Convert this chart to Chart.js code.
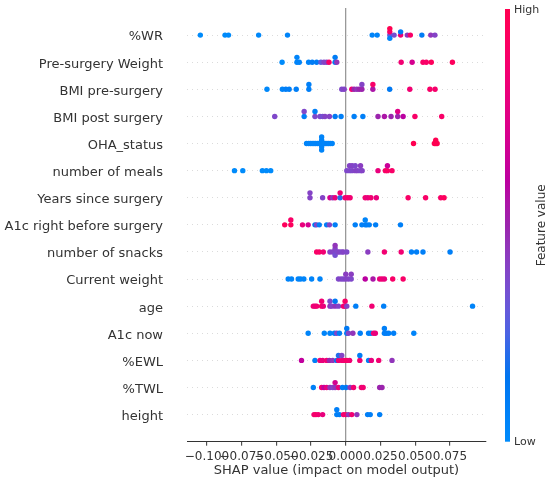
<!DOCTYPE html>
<html lang="en">
<head>
<meta charset="UTF-8">
<title>SHAP summary</title>
<script src="https://cdn.jsdelivr.net/npm/chart.js"></script>
<style>
  html, body { margin: 0; padding: 0; background: #fff; }
  #wrap { width: 550px; height: 482px; position: relative; }
</style>
</head>
<body>
<div id="wrap"><canvas id="shapCanvas"></canvas></div>
<script>
  // features, top to bottom
  const features = ['%WR', 'Pre-surgery Weight', 'BMI pre-surgery', 'BMI post surgery', 'OHA_status',
    'number of meals', 'Years since surgery', 'A1c right before surgery', 'number of snacks',
    'Current weight', 'age', 'A1c now', '%EWL', '%TWL', 'height'];
  const xTicks = [-0.1, -0.075, -0.05, -0.025, 0, 0.025, 0.05, 0.075];

  // SHAP value of each dot, and its feature value (0 = low, 1 = high)
  const wrShap = [-0.1048, -0.087, -0.0845, -0.0628, -0.042, 0.019, 0.0226, 0.0317, 0.0317, 0.0317, 0.0317,
    0.0348, 0.0395, 0.0395, 0.0443, 0.0465, 0.0548, 0.0612, 0.0642];
  const wrFeat = [0, 0, 0, 0.02, 0.05, 0.05, 0.05, 0.3, 0.9, 0.05, 1, 0.35, 0.85, 0.1, 0.45, 0.9, 0.1, 0.45, 0.4];

  const preWeightShap = [-0.0459, -0.0352, -0.0352, -0.0335, -0.0268, -0.0242, -0.021, -0.0179, -0.0157,
    -0.0138, -0.0121, -0.0077, -0.0077, -0.0065, 0.0399, 0.0478, 0.0556, 0.058, 0.0616, 0.0768];
  const preWeightFeat = [0, 0.05, 0.05, 0.05, 0.05, 0.1, 0.1, 0.3, 0.4, 0.4, 0.9, 0.1, 0.1, 0.45, 0.85, 0.7, 0.9, 0.9, 0.95, 0.95];

  const bmiPreShap = [-0.0568, -0.0457, -0.0432, -0.0408, -0.0357, -0.0266, -0.0266, -0.0029, -0.0012, 0.0043,
    0.006, 0.008, 0.0097, 0.0116, 0.0116, 0.0195, 0.0195, 0.0316, 0.0461, 0.0606, 0.0643];
  const bmiPreFeat = [0.02, 0.05, 0.08, 0.08, 0.08, 0.08, 0.08, 0.38, 0.4, 0.85, 0.5, 0.45, 0.5, 0.5, 0.4, 0.55, 0.9,
    0.12, 0.85, 0.9, 0.88];

  const bmiPostShap = [-0.0512, -0.03, -0.03, -0.0222, -0.0222, -0.0186, -0.0167, -0.015, -0.0118, -0.0077,
    -0.0034, 0.006, 0.0123, 0.0232, 0.0278, 0.0326, 0.0374, 0.0374, 0.0413, 0.0498, 0.0691];
  const bmiPostFeat = [0.38, 0.08, 0.38, 0.38, 0.08, 0.38, 0.35, 0.4, 0.4, 0.12, 0.08, 0.08, 0.08, 0.5, 0.55,
    0.5, 0.5, 0.75, 0.6, 0.9, 0.9];

  const ohaShap = [-0.0283, -0.0268, -0.0255, -0.0243, -0.023, -0.0218, -0.0205, -0.0192, -0.0174, -0.0174,
    -0.0174, -0.0174, -0.0174, -0.016, -0.0148, -0.0136, -0.0124, -0.0112, -0.0098, 0.0488, 0.0638, 0.0648,
    0.0648, 0.0658];
  const ohaFeat = [0.05, 0.05, 0.05, 0.05, 0.05, 0.05, 0.05, 0.05, 0.05, 0.05, 0.05, 0.05, 0.05, 0.05, 0.05,
    0.05, 0.05, 0.05, 0.05, 1, 1, 1, 1, 1];

  const mealsShap = [-0.0802, -0.0742, -0.0601, -0.0572, -0.0541, 0.0007, 0.0027, 0.0027, 0.0045, 0.0045,
    0.0068, 0.0068, 0.0085, 0.0106, 0.0106, 0.0118, 0.0232, 0.0285, 0.03, 0.03, 0.0333];
  const mealsFeat = [0, 0, 0, 0, 0, 0.38, 0.38, 0.4, 0.38, 0.4, 0.4, 0.38, 0.4, 0.38, 0.42, 0.4, 0.8, 0.9, 0.92,
    0.65, 0.9];

  const yearsShap = [-0.0258, -0.0258, -0.0167, -0.0114, -0.0094, -0.0077, -0.0041, -0.0041, -0.0005, 0.0014,
    0.0031, 0.014, 0.0159, 0.0181, 0.022, 0.0449, 0.0575, 0.0684, 0.0708];
  const yearsFeat = [0.4, 0.4, 0.4, 0.7, 0.45, 0.8, 0.2, 0.85, 0.85, 0.88, 0.85, 0.85, 0.8, 0.85, 0.8, 0.9, 0.9,
    0.9, 0.95];

  const a1cPreShap = [-0.044, -0.0396, -0.0396, -0.0312, -0.0271, -0.0222, -0.021, -0.0191, -0.0138, -0.0118,
    -0.0077, 0.0068, 0.0116, 0.014, 0.014, 0.0152, 0.0169, 0.0215, 0.0394];
  const a1cPreFeat = [0.95, 0.95, 0.9, 0.8, 0.7, 0.12, 0.4, 0.08, 0.08, 0.4, 0.08, 0.08, 0.08, 0.08, 0.05,
    0.08, 0.08, 0.08, 0.08];

  const snacksShap = [-0.021, -0.0191, -0.0162, -0.0114, -0.0094, -0.0077, -0.0077, -0.0077, -0.0077, -0.006,
    -0.0046, -0.0029, -0.0017, 0.0007, 0.0159, 0.0278, 0.0399, 0.0473, 0.051, 0.0556, 0.0751];
  const snacksFeat = [0.9, 0.9, 0.85, 0.4, 0.4, 0.38, 0.4, 0.35, 0.45, 0.38, 0.4, 0.38, 0.4, 0.38, 0.42, 0.85,
    0.85, 0.08, 0.08, 0.08, 0.08];

  const curWeightShap = [-0.0415, -0.0391, -0.0343, -0.0326, -0.0302, -0.0246, -0.0186, -0.0053, -0.0034,
    -0.0017, 0, 0, 0.0019, 0.0039, 0.0039, 0.014, 0.0196, 0.0244, 0.0261, 0.0278, 0.0338, 0.0413];
  const curWeightFeat = [0.05, 0.05, 0.05, 0.05, 0.05, 0.05, 0.05, 0.38, 0.4, 0.38, 0.4, 0.42, 0.4, 0.38, 0.42,
    0.6, 0.55, 0.8, 0.85, 0.8, 0.9, 0.9];

  const ageShap = [-0.0234, -0.0222, -0.021, -0.0174, -0.0174, -0.0162, -0.0114, -0.0114, -0.0101, -0.0077,
    -0.0077, -0.0053, -0.0017, -0.0005, -0.0005, 0.0007, 0.0072, 0.0188, 0.0273, 0.0913];
  const ageFeat = [0.85, 0.8, 0.85, 0.9, 0.85, 0.8, 0.45, 0.38, 0.4, 0.45, 0.12, 0.4, 0.85, 0.85, 0.9, 0.4,
    0.08, 0.85, 0.08, 0.05];

  const a1cNowShap = [-0.0271, -0.0155, -0.0114, -0.0082, -0.0065, -0.0046, 0.0007, 0.0007, 0.0019, 0.0051,
    0.0104, 0.0164, 0.0181, 0.02, 0.0213, 0.0278, 0.0278, 0.0292, 0.0309, 0.0345, 0.049];
  const a1cNowFeat = [0.05, 0.05, 0.05, 0.08, 0.4, 0.08, 0.08, 0.12, 0.4, 0.45, 0.08, 0.08, 0.08, 0.85, 0.8,
    0.08, 0.08, 0.08, 0.08, 0.08, 0.05];

  const ewlShap = [-0.0319, -0.0222, -0.0186, -0.0167, -0.0138, -0.0118, -0.0094, -0.0065, -0.0053, -0.0053,
    -0.0029, -0.0029, -0.0012, 0.0007, 0.0027, 0.0101, 0.0101, 0.0164, 0.0184, 0.0237, 0.0333];
  const ewlFeat = [0.62, 0.08, 0.85, 0.8, 0.85, 0.5, 0.45, 0.12, 0.85, 0.2, 0.85, 0.4, 0.85, 0.9, 0.85, 0.85,
    0.1, 0.08, 0.8, 0.85, 0.45];

  const twlShap = [-0.0234, -0.0174, -0.0157, -0.0138, -0.0114, -0.0094, -0.0077, -0.0077, -0.0053, -0.0024,
    0.0002, 0.0031, 0.0056, 0.0112, 0.0125, 0.0244, 0.0261];
  const twlFeat = [0.08, 0.85, 0.62, 0.8, 0.45, 0.4, 0.45, 0.7, 0.8, 0.08, 0.12, 0.45, 0.85, 0.85, 0.85, 0.5, 0.5];

  const heightShap = [-0.0229, -0.0215, -0.0198, -0.0167, -0.0065, -0.0065, -0.0046, -0.0017, 0, 0.0019,
    0.0043, 0.008, 0.0157, 0.0176, 0.0244];
  const heightFeat = [0.85, 0.9, 0.85, 0.8, 0.08, 0.08, 0.08, 0.85, 0.9, 0.45, 0.85, 0.45, 0.08, 0.08, 0.08];

  const shapRows = [wrShap, preWeightShap, bmiPreShap, bmiPostShap, ohaShap, mealsShap, yearsShap, a1cPreShap,
    snacksShap, curWeightShap, ageShap, a1cNowShap, ewlShap, twlShap, heightShap];
  const featRows = [wrFeat, preWeightFeat, bmiPreFeat, bmiPostFeat, ohaFeat, mealsFeat, yearsFeat, a1cPreFeat,
    snacksFeat, curWeightFeat, ageFeat, a1cNowFeat, ewlFeat, twlFeat, heightFeat];

  // shap's red_blue colour map (lch blend from blue to red)
  const blueLch = [54, 70, 4.6588];
  const redLch = [54, 90, 0.35470565 + 2 * Math.PI];
  const lMid = 40;

  function lch2rgb(l, c, h) {
    const a = c * Math.cos(h), b = c * Math.sin(h);
    const fy = (l + 16) / 116, fx = fy + a / 500, fz = fy - b / 200;
    const finv = t => t > 6 / 29 ? t * t * t : 3 * (6 / 29) * (6 / 29) * (t - 4 / 29);
    const X = 0.95047 * finv(fx), Y = finv(fy), Z = 1.08883 * finv(fz);
    const lin = [
      3.2406 * X - 1.5372 * Y - 0.4986 * Z,
      -0.9689 * X + 1.8758 * Y + 0.0415 * Z,
      0.0557 * X - 0.2040 * Y + 1.0570 * Z
    ];
    const rgb = lin.map(v => {
      v = Math.min(1, Math.max(0, v));
      v = v <= 0.0031308 ? 12.92 * v : 1.055 * Math.pow(v, 1 / 2.4) - 0.055;
      return Math.round(Math.min(1, Math.max(0, v)) * 255);
    });
    return 'rgb(' + rgb.join(',') + ')';
  }

  function redBlue(t) {
    t = Math.min(1, Math.max(0, t));
    const l = t < 0.5 ? blueLch[0] + (lMid - blueLch[0]) * t * 2 : lMid + (redLch[0] - lMid) * (t - 0.5) * 2;
    const c = blueLch[1] + (redLch[1] - blueLch[1]) * t;
    const h = blueLch[2] + (redLch[2] - blueLch[2]) * t;
    return lch2rgb(l, c, h);
  }

  // beeswarm offsets the way shap stacks dots that share a bin
  const rowHeight = 0.4;
  function swarmOffsets(vals) {
    const lo = Math.min(...vals), hi = Math.max(...vals);
    const quant = vals.map(v => Math.round(100 * (v - lo) / (hi - lo + 1e-8)));
    const order = vals.map((v, i) => i).sort((a, b) => quant[a] - quant[b] || a - b);
    const ys = vals.map(() => 0);
    let layer = 0, lastBin = -1;
    order.forEach(i => {
      if (quant[i] !== lastBin) layer = 0;
      ys[i] = Math.ceil(layer / 2) * ((layer % 2) * 2 - 1);
      layer++;
      lastBin = quant[i];
    });
    const top = Math.max(...ys.map(y => y + 1));
    return ys.map(y => y * 0.9 * (rowHeight / top));
  }

  const points = [];
  const colours = [];
  features.forEach((name, i) => {
    const row = features.length - 1 - i;
    const off = swarmOffsets(shapRows[i]);
    shapRows[i].forEach((v, j) => {
      points.push({ x: v, y: row + off[j] });
      colours.push(redBlue(featRows[i][j]));
    });
  });

  const colourBar = {
    id: 'colourBar',
    afterDraw(chart) {
      const ctx = chart.ctx;
      const area = chart.chartArea;
      const x0 = area.right + 19, w = 5;
      const top = area.top + 1, bottom = area.bottom;
      const grad = ctx.createLinearGradient(0, bottom, 0, top);
      for (let k = 0; k <= 20; k++) grad.addColorStop(k / 20, redBlue(k / 20));
      ctx.save();
      ctx.fillStyle = grad;
      ctx.fillRect(x0, top, w, bottom - top);
      ctx.fillStyle = '#333';
      ctx.font = '11px "DejaVu Sans"';
      ctx.textAlign = 'left';
      ctx.textBaseline = 'middle';
      ctx.fillText('High', x0 + w + 4, top + 1);
      ctx.fillText('Low', x0 + w + 4, bottom);
      ctx.translate(x0 + 37, (top + bottom) / 2);
      ctx.rotate(-Math.PI / 2);
      ctx.textAlign = 'center';
      ctx.font = '12px "DejaVu Sans"';
      ctx.fillText('Feature value', 0, 0);
      ctx.restore();
    }
  };

  Chart.defaults.font.family = '"DejaVu Sans", sans-serif';
  Chart.defaults.color = '#333';

  new Chart(document.getElementById('shapCanvas'), {
    type: 'scatter',
    data: {
      datasets: [{
        data: points,
        backgroundColor: colours,
        borderWidth: 0,
        pointRadius: 2.7,
        pointHoverRadius: 2.7
      }]
    },
    options: {
      responsive: true,
      maintainAspectRatio: false,
      animation: false,
      events: [],
      layout: { padding: { top: 8, right: 64, left: 0, bottom: 0 } },
      plugins: { legend: { display: false }, tooltip: { enabled: false } },
      scales: {
        x: {
          type: 'linear',
          min: -0.1144,
          max: 0.101,
          afterBuildTicks: scale => { scale.ticks = xTicks.map(v => ({ value: v })); },
          afterFit: scale => {
            scale.height = 40.3;
            scale.paddingLeft = 0;
            scale.paddingRight = 0;
          },
          ticks: {
            autoSkip: false,
            maxRotation: 0,
            minRotation: 0,
            padding: 4,
            font: { size: 12 },
            color: '#333',
            callback: v => (v < 0 ? '\u2212' : '') + Math.abs(v).toFixed(3)
          },
          grid: {
            color: c => (c.tick && Math.abs(c.tick.value) < 1e-9) ? '#999' : 'rgba(0,0,0,0)',
            lineWidth: 1.3,
            tickColor: '#333',
            tickLength: 4,
            tickWidth: 1
          },
          border: { display: true, color: '#333', width: 1 },
          title: {
            display: true,
            text: 'SHAP value (impact on model output)',
            font: { size: 13 },
            color: '#333',
            padding: { top: 0, bottom: 4 }
          }
        },
        y: {
          type: 'linear',
          min: -1,
          max: 15,
          afterBuildTicks: scale => { scale.ticks = features.map((f, i) => ({ value: i })); },
          afterFit: scale => {
            scale.width = 187;
            scale.paddingTop = 0;
            scale.paddingBottom = 0;
          },
          ticks: {
            padding: 24,
            labelOffset: 2,
            font: { size: 13 },
            color: '#333',
            callback: v => features[features.length - 1 - v]
          },
          grid: {
            color: '#ccc',
            lineWidth: 0.7,
            drawTicks: false
          },
          border: { display: false, dash: [1, 4] }
        }
      }
    },
    plugins: [colourBar]
  });
</script>
</body>
</html>
